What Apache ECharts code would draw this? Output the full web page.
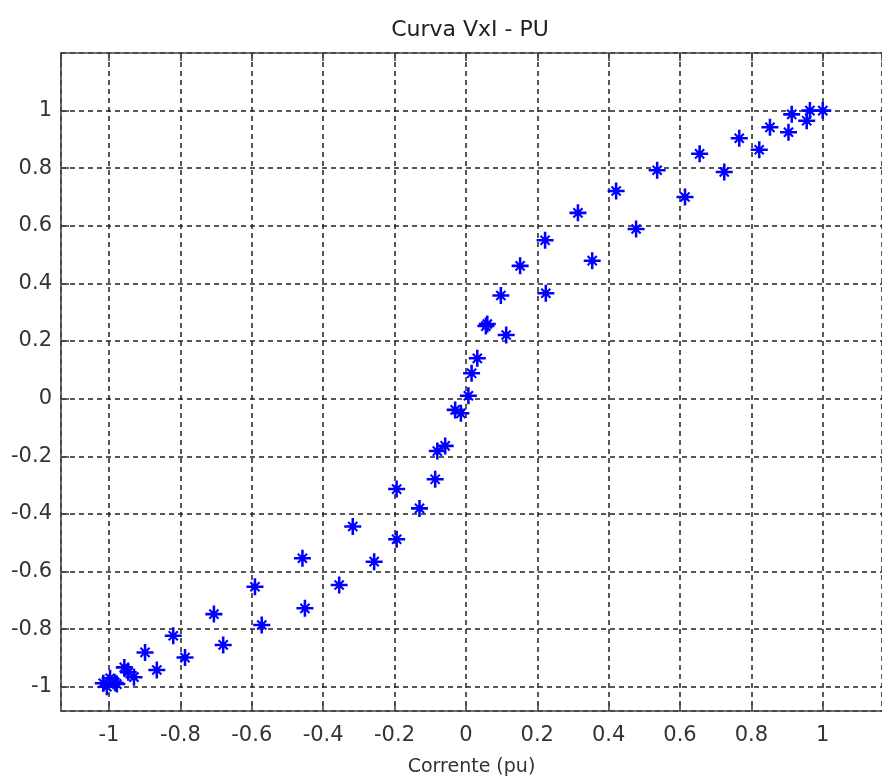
<!DOCTYPE html>
<html>
<head>
<meta charset="utf-8">
<title>Curva VxI - PU</title>
<script src="https://cdn.jsdelivr.net/npm/echarts@6/dist/echarts.min.js"></script>
<style>
    html, body { margin: 0; padding: 0; background: #fff; }
    #chart { width: 882px; height: 778px; }
</style>
</head>
<body>
<div id="chart"></div>
<script>
    // pontos (corrente em pu, tensao em pu)
    var currentPu = [
        1.0, 0.964, 0.913, 0.955, 0.904, 0.852, 0.822, 0.766, 0.724, 0.655,
        0.614, 0.536, 0.477, 0.421, 0.354, 0.314, 0.224, 0.222, 0.152, 0.113,
        0.098, 0.056, 0.06, 0.032, 0.016, 0.007, -0.014, -0.03, -0.058, -0.08,
        -0.086, -0.13, -0.194, -0.194, -0.257, -0.317, -0.355, -0.451, -0.458, -0.572,
        -0.591, -0.68, -0.706, -0.787, -0.82, -0.866, -0.899, -0.93, -0.946, -0.957,
        -0.978, -0.983, -0.997, -1.006, -1.016
    ];
    var voltagePu = [
        1.0, 1.0, 0.987, 0.965, 0.925, 0.942, 0.864, 0.904, 0.787, 0.85,
        0.7, 0.793, 0.589, 0.721, 0.479, 0.645, 0.366, 0.55, 0.461, 0.221,
        0.358, 0.252, 0.259, 0.14, 0.088, 0.01, -0.051, -0.039, -0.164, -0.182,
        -0.28, -0.381, -0.314, -0.488, -0.566, -0.444, -0.647, -0.728, -0.554, -0.786,
        -0.653, -0.855, -0.748, -0.899, -0.823, -0.942, -0.881, -0.967, -0.95, -0.933,
        -0.991, -0.986, -0.971, -1.0, -0.988
    ];

    var xMin = -1.1345, xMax = 1.166;
    var yMin = -1.0844, yMax = 1.2;

    var points = [];
    for (var i = 0; i < currentPu.length; i++) {
        points.push([currentPu[i], voltagePu[i]]);
    }

    // marcador "*" do matlab: cruz + x
    var starPath = 'path://M6.8,0 L9.2,0 L9.2,6.8 L16,6.8 L16,9.2 L9.2,9.2 L9.2,16 L6.8,16 L6.8,9.2 L0,9.2 L0,6.8 L6.8,6.8 Z ' +
        'M4.4,3 L13,11.6 L11.6,13 L3,4.4 Z M11.6,3 L13,4.4 L4.4,13 L3,11.6 Z';

    var axisColor = '#444';
    var gridLine = { show: true, lineStyle: { color: '#222', type: [5, 4], width: 1.5 } };
    var tickFont = { color: '#333', fontSize: 21, fontFamily: 'DejaVu Sans' };

    var chart = echarts.init(document.getElementById('chart'));
    chart.setOption({
        backgroundColor: '#fff',
        animation: false,
        title: {
            text: 'Curva VxI - PU',
            left: 465,
            textAlign: 'center',
            top: 14,
            textStyle: { color: '#222', fontSize: 22, fontWeight: 'normal', fontFamily: 'DejaVu Sans' }
        },
        grid: { left: 61, right: 0, top: 53, bottom: 67, outerBoundsMode: 'none' },
        xAxis: [{
            type: 'value',
            min: xMin,
            max: xMax,
            splitNumber: 11,
            name: 'Corrente (pu)',
            nameLocation: 'middle',
            nameGap: 47,
            nameTextStyle: { color: '#333', fontSize: 19, fontFamily: 'DejaVu Sans' },
            axisLine: { onZero: false, lineStyle: { color: axisColor, width: 1.6 } },
            axisTick: { inside: true, length: 8, lineStyle: { color: axisColor, width: 1.6 } },
            axisLabel: {
                showMinLabel: false, showMaxLabel: false, margin: 14,
                color: tickFont.color, fontSize: tickFont.fontSize, fontFamily: tickFont.fontFamily
            },
            splitLine: gridLine
        }, {
            type: 'value',
            position: 'top',
            min: xMin,
            max: xMax,
            splitNumber: 11,
            axisLine: { onZero: false, lineStyle: { color: axisColor, width: 1.6 } },
            axisTick: { inside: true, length: 8, lineStyle: { color: axisColor, width: 1.6 } },
            axisLabel: { show: false },
            splitLine: { show: false }
        }],
        yAxis: {
            type: 'value',
            min: yMin,
            max: yMax,
            splitNumber: 11,
            axisLine: { show: true, onZero: false, lineStyle: { color: axisColor, width: 1.6 } },
            axisTick: { show: true, inside: true, length: 8, lineStyle: { color: axisColor, width: 1.6 } },
            axisLabel: {
                showMinLabel: false, showMaxLabel: false, margin: 9,
                color: tickFont.color, fontSize: tickFont.fontSize, fontFamily: tickFont.fontFamily
            },
            splitLine: gridLine
        },
        series: [{
            type: 'scatter',
            xAxisIndex: 0,
            data: points,
            symbol: starPath,
            symbolSize: 17,
            itemStyle: { color: '#0000ff', opacity: 1 }
        }]
    });
</script>
</body>
</html>
